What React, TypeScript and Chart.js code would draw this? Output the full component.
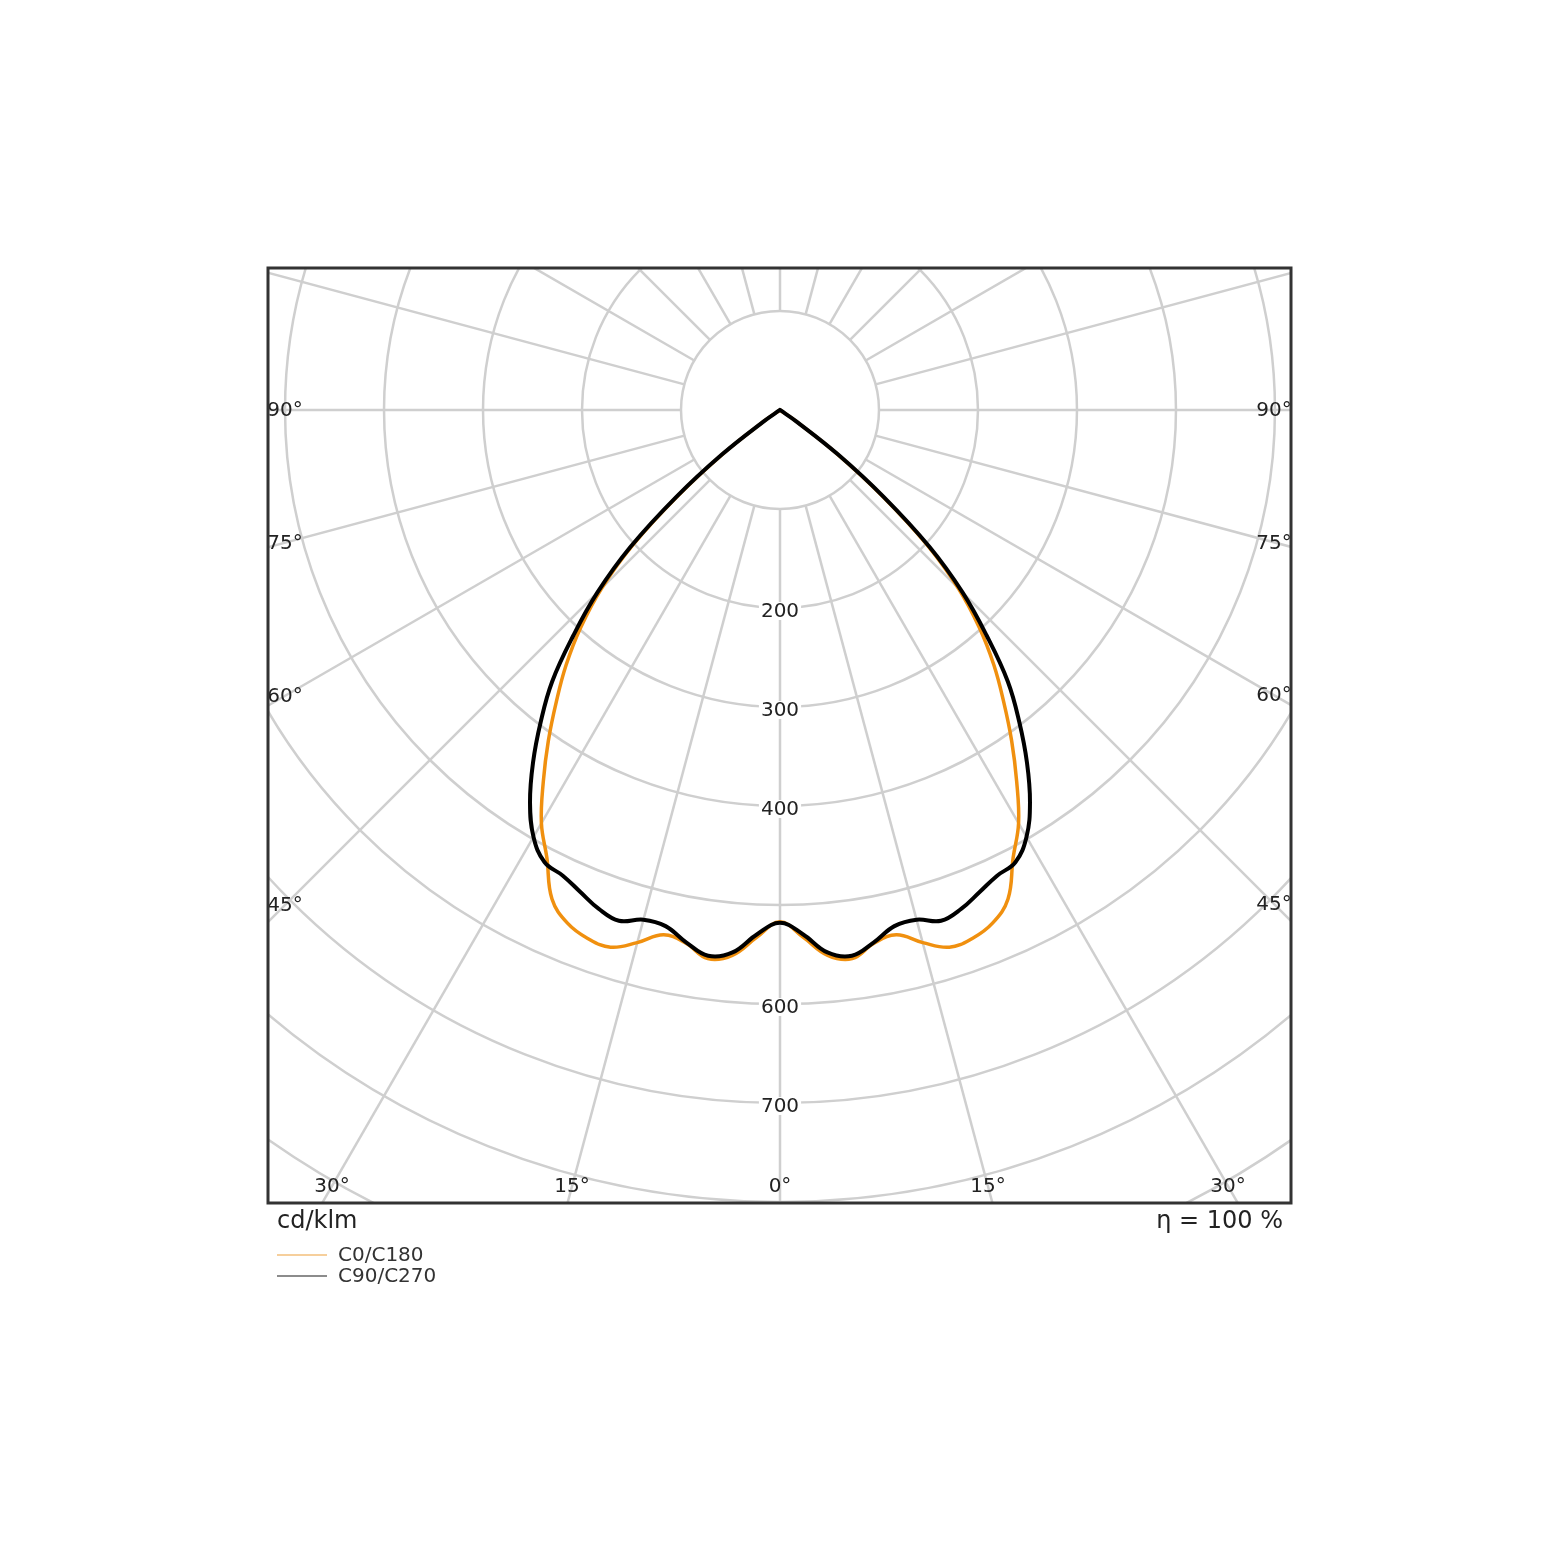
import React, { useEffect, useRef } from "react";
import { Chart, registerables } from "chart.js";

Chart.register(...registerables);

// Polar angles (degrees from nadir) and luminous intensity in cd/klm
const ANGLES = [0, 2.5, 5, 7.5, 10, 12.5, 15, 17.5, 20, 22.5, 25, 27.5, 30, 32.5, 35, 37.5, 40, 42.5, 45, 47.5, 50, 52.5, 55, 57.5, 60];
const C0_C180 = [517, 533, 553, 559, 547, 543, 557, 569, 568, 561, 545, 510, 482, 445, 408, 371, 336, 298, 255, 201, 134, 72, 18, 0, 0];
const C90_C270 = [518, 530, 550, 556, 546, 534, 533, 541, 536, 527, 519, 515, 498, 470, 435, 397, 358, 309, 261, 205, 137, 74, 20, 0, 0];

const SERIES_LABELS = ["C0/C180", "C90/C270"];
const RINGS = [100, 200, 300, 400, 500, 600, 700, 800, 900, 1000];
const RING_TICKS = [200, 300, 400, 600, 700];
const SPOKE_STEP = 15;
const ANGLE_TICKS = [0, 15, 30, 45, 60, 75, 90];
const UNIT_LABEL = "cd/klm";
const EFFICIENCY_LABEL = "η = 100 %";

const ORANGE = "#f0900f";
const BLACK = "#000000";
const FONT = '"DejaVu Sans", sans-serif';

function toPoints(values: number[]) {
  const pts: { x: number; y: number }[] = [];
  for (let i = ANGLES.length - 1; i >= 0; i--) {
    const t = (ANGLES[i] * Math.PI) / 180;
    pts.push({ x: -values[i] * Math.sin(t), y: -values[i] * Math.cos(t) });
  }
  for (let i = 1; i < ANGLES.length; i++) {
    const t = (ANGLES[i] * Math.PI) / 180;
    pts.push({ x: values[i] * Math.sin(t), y: -values[i] * Math.cos(t) });
  }
  return pts;
}

const polarGrid = {
  id: "polarGrid",
  beforeDatasetsDraw(chart: any) {
    const { ctx, chartArea: a, scales } = chart;
    const xs = scales.x;
    const ys = scales.y;
    const cx = xs.getPixelForValue(0);
    const cy = ys.getPixelForValue(0);
    const sx = (xs.getPixelForValue(100) - cx) / 100;
    const sy = (cy - ys.getPixelForValue(100)) / 100;
    ctx.save();
    ctx.beginPath();
    ctx.rect(a.left, a.top, a.right - a.left, a.bottom - a.top);
    ctx.clip();
    ctx.fillStyle = "#ffffff";
    ctx.fillRect(a.left, a.top, a.right - a.left, a.bottom - a.top);
    ctx.strokeStyle = "#cfcfcf";
    ctx.lineWidth = 2.5;
    for (const r of RINGS) {
      ctx.beginPath();
      ctx.ellipse(cx, cy, r * sx, r * sy, 0, 0, Math.PI * 2);
      ctx.stroke();
    }
    for (let d = 0; d < 360; d += SPOKE_STEP) {
      const t = (d * Math.PI) / 180;
      const s = Math.sin(t);
      const c = Math.cos(t);
      ctx.beginPath();
      ctx.moveTo(cx + 100 * sx * s, cy + 100 * sy * c);
      ctx.lineTo(cx + 1300 * sx * s, cy + 1300 * sy * c);
      ctx.stroke();
    }
    ctx.font = "20px " + FONT;
    ctx.textAlign = "center";
    ctx.textBaseline = "middle";
    // radial tick labels
    for (const v of RING_TICKS) {
      const py = ys.getPixelForValue(-v) + 3;
      const txt = String(v);
      const w = ctx.measureText(txt).width;
      ctx.fillStyle = "#ffffff";
      ctx.fillRect(cx - w / 2 - 2, py - 9, w + 4, 18);
      ctx.fillStyle = "#222222";
      ctx.fillText(txt, cx, py + 1);
    }
    // angle labels
    const inset = 17;
    ctx.fillStyle = "#222222";
    for (const ang of ANGLE_TICKS) {
      const sides = ang === 0 ? [1] : [-1, 1];
      for (const side of sides) {
        const t = (ang * Math.PI) / 180;
        const s = Math.sin(t);
        const c = Math.cos(t);
        let tt = Infinity;
        if (s > 1e-6) {
          const lim = side < 0 ? cx - (a.left + inset) : a.right - inset - cx;
          tt = Math.min(tt, lim / s);
        }
        if (c > 1e-6) {
          tt = Math.min(tt, (a.bottom - inset - cy) / c);
        }
        const px = cx + side * tt * s;
        const py = cy + tt * c;
        ctx.fillText(ang + "°", px, py + 1);
      }
    }
    ctx.restore();
  },
  afterDatasetsDraw(chart: any) {
    const { ctx, chartArea: a } = chart;
    ctx.save();
    ctx.strokeStyle = "#333333";
    ctx.lineWidth = 3;
    ctx.strokeRect(a.left, a.top, a.right - a.left, a.bottom - a.top);
    ctx.restore();
  },
  afterDraw(chart: any) {
    const { ctx, chartArea: a } = chart;
    ctx.save();
    ctx.fillStyle = "#222222";
    ctx.textBaseline = "middle";
    ctx.font = "24px " + FONT;
    ctx.textAlign = "left";
    ctx.fillText(UNIT_LABEL, a.left + 9, a.bottom + 19);
    ctx.textAlign = "right";
    ctx.fillText(EFFICIENCY_LABEL, a.right - 8, a.bottom + 19);
    // legend
    const legendColors = ["#f6cf9c", "#8c8c8c"];
    ctx.font = "20px " + FONT;
    ctx.textAlign = "left";
    SERIES_LABELS.forEach((lab, i) => {
      const y = a.bottom + 52 + i * 21;
      ctx.strokeStyle = legendColors[i];
      ctx.lineWidth = 2;
      ctx.beginPath();
      ctx.moveTo(a.left + 9, y);
      ctx.lineTo(a.left + 59, y);
      ctx.stroke();
      ctx.fillStyle = "#333333";
      ctx.fillText(lab, a.left + 70, y + 1);
    });
    ctx.restore();
  },
};

export default function App() {
  const canvasRef = useRef<HTMLCanvasElement | null>(null);

  useEffect(() => {
    if (!canvasRef.current) return;
    const chart = new Chart(canvasRef.current, {
      type: "scatter",
      data: {
        datasets: [
          {
            label: SERIES_LABELS[0],
            data: toPoints(C0_C180),
            showLine: true,
            borderColor: ORANGE,
            borderWidth: 3.5,
            pointRadius: 0,
            tension: 0.4,
            borderJoinStyle: "round",
            borderCapStyle: "round",
            order: 1,
          },
          {
            label: SERIES_LABELS[1],
            data: toPoints(C90_C270),
            showLine: true,
            borderColor: BLACK,
            borderWidth: 4,
            pointRadius: 0,
            tension: 0.4,
            borderJoinStyle: "round",
            borderCapStyle: "round",
            order: 0,
          },
        ],
      },
      options: {
        animation: false,
        responsive: false,
        devicePixelRatio: 1,
        layout: { padding: { left: 268, top: 268, right: 269, bottom: 358 } },
        scales: {
          x: { type: "linear", min: -517.2, max: 516.2, display: false },
          y: { type: "linear", min: -801, max: 143.4, display: false },
        },
        plugins: {
          legend: { display: false },
          tooltip: { enabled: false },
        },
      },
      plugins: [polarGrid],
    } as any);
    return () => chart.destroy();
  }, []);

  return (
    <div style={{ position: "absolute", left: 0, top: 0, width: 1560, height: 1561, background: "#ffffff" }}>
      <canvas ref={canvasRef} width={1560} height={1561} style={{ width: 1560, height: 1561, display: "block" }} />
    </div>
  );
}
